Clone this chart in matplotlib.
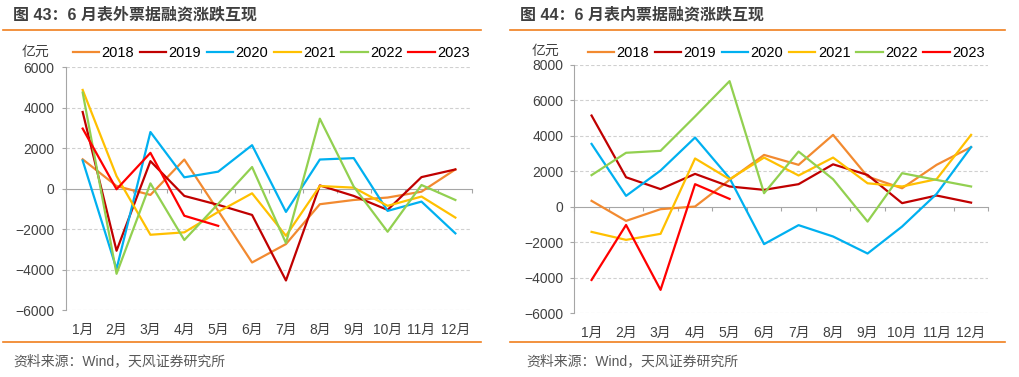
import numpy as np
import matplotlib.pyplot as plt

plt.rcParams['font.family'] = ['Liberation Sans', 'Noto Sans CJK SC', 'DejaVu Sans']

months = ['1月', '2月', '3月', '4月', '5月', '6月', '7月', '8月', '9月', '10月', '11月', '12月']
years = ['2018', '2019', '2020', '2021', '2022', '2023']
colors = ['#F28A30', '#C00000', '#00B0F0', '#FFC000', '#92D050', '#FF0000']

# 图43 表外票据融资（亿元）
off_2018 = [1450, 130, -310, 1440, -1100, -3650, -2740, -770, -560, -440, -150, 950]
off_2019 = [3790, -3070, 1360, -360, -800, -1300, -4540, 160, -360, -1050, 570, 950]
off_2020 = [1390, -3970, 2800, 560, 840, 2150, -1150, 1440, 1510, -1100, -640, -2210]
off_2021 = [4880, 620, -2280, -2160, -1150, -230, -2330, 130, 50, -850, -390, -1430]
off_2022 = [4750, -4210, 260, -2540, -750, 1070, -2690, 3460, 100, -2130, 180, -560]
off_2023 = [2970, -30, 1770, -1340, -1840]

# 图44 表内票据融资（亿元）
in_2018 = [340, -790, -130, 20, 1520, 2930, 2370, 4060, 1710, 1050, 2370, 3370]
in_2019 = [5150, 1670, 1000, 1860, 1150, 960, 1280, 2400, 1800, 210, 640, 240]
in_2020 = [3550, 620, 2050, 3910, 1620, -2100, -1030, -1670, -2630, -1110, 730, 3370]
in_2021 = [-1410, -1860, -1520, 2730, 1560, 2780, 1770, 2780, 1330, 1150, 1560, 4060]
in_2022 = [1790, 3050, 3160, 5100, 7090, 770, 3120, 1560, -830, 1900, 1520, 1150]
in_2023 = [-4120, -1020, -4680, 1280, 450]

fig = plt.figure(figsize=(10.19, 3.77), dpi=100)

txt = '#404040'


def draw(ax, series, ylim, step, leg_x, leg_y):
    x = np.arange(len(months))
    for s, c, lab in zip(series, colors, years):
        ax.plot(x[:len(s)], s, color=c, lw=1.6, label=lab)
    ax.set_xlim(-0.5, len(months) - 0.5)
    ax.set_ylim(*ylim)
    ticks = np.arange(ylim[0], ylim[1] + 1, step)
    ax.set_yticks(ticks)
    ax.set_yticklabels([f'{t:.0f}'.replace('-', '−') for t in ticks], fontsize=10, color=txt)
    for t in ticks:
        if t != 0:
            ax.axhline(t, color='#D0D0D0', lw=0.8, ls=(0, (3, 2)), zorder=0)
    for sp in ['top', 'right']:
        ax.spines[sp].set_visible(False)
    ax.spines['left'].set_color('#A6A6A6')
    ax.spines['bottom'].set_position(('data', 0))
    ax.spines['bottom'].set_color('#A6A6A6')
    ax.spines['bottom'].set_zorder(0.5)
    ax.tick_params(axis='y', length=3, color='#A6A6A6', pad=5)
    ax.set_xticks(np.arange(-0.5, len(months), 1))
    ax.tick_params(axis='x', length=3, color='#A6A6A6', labelbottom=False)
    sec = ax.secondary_xaxis(0)
    sec.set_xticks(x)
    sec.set_xticklabels(months, fontsize=10, color=txt)
    sec.tick_params(length=0, pad=9)
    sec.spines['bottom'].set_visible(False)
    ax.legend(loc='center left', bbox_to_anchor=(leg_x, leg_y), ncol=6, frameon=False,
              fontsize=10.5, handlelength=1.8, handletextpad=0.16, columnspacing=0.4,
              borderaxespad=0, borderpad=0)


ax1 = fig.add_axes([0.0645, 0.1777, 0.399, 0.6438])
draw(ax1, [off_2018, off_2019, off_2020, off_2021, off_2022, off_2023], (-6000, 6000), 2000, 0.018, 1.059)
ax2 = fig.add_axes([0.5636, 0.169, 0.4063, 0.6586])
draw(ax2, [in_2018, in_2019, in_2020, in_2021, in_2022, in_2023], (-6000, 8000), 2000, 0.033, 1.048)

# titles, unit labels, rules and sources
fig.text(13 / 1019, 1 - 15 / 377, '图 43：6 月表外票据融资涨跌互现', fontsize=11.5, fontweight='bold',
         color='#3F3F3F', va='center', ha='left')
fig.text(520 / 1019, 1 - 15 / 377, '图 44：6 月表内票据融资涨跌互现', fontsize=11.5, fontweight='bold',
         color='#3F3F3F', va='center', ha='left')
fig.text(22 / 1019, 1 - 52 / 377, '亿元', fontsize=10, color=txt, va='center', ha='left')
fig.text(532 / 1019, 1 - 51 / 377, '亿元', fontsize=10, color=txt, va='center', ha='left')

for x0, x1 in [(3, 481), (510, 1005)]:
    for yy in [29.5, 342]:
        fig.add_artist(plt.Line2D([x0 / 1019, x1 / 1019], [1 - yy / 377] * 2, color='#F07F1E', lw=1.2))

fig.text(13 / 1019, 1 - 361 / 377, '资料来源：Wind，天风证券研究所', fontsize=10, color='#595959',
         va='center', ha='left')
fig.text(526 / 1019, 1 - 361 / 377, '资料来源：Wind，天风证券研究所', fontsize=10, color='#595959',
         va='center', ha='left')

fig.savefig('out.png', dpi=100)
